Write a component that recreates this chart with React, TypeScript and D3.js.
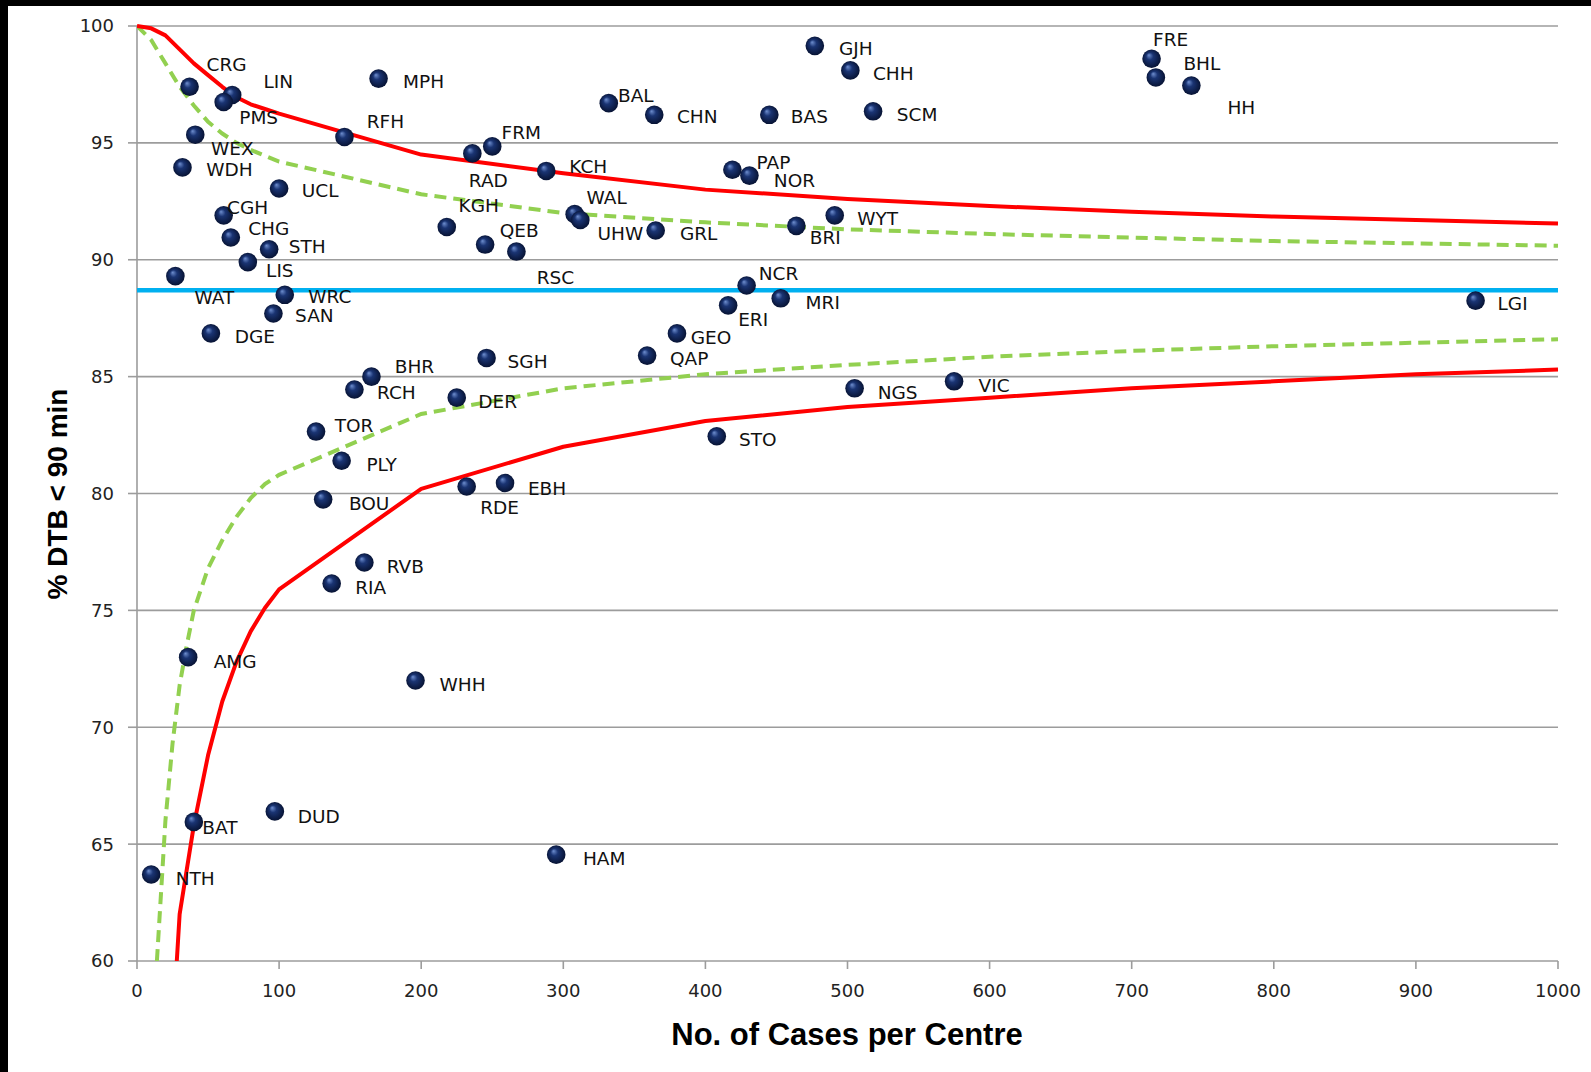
import React from 'react';
import * as d3 from 'd3';

// ---- Data ----
const centreCodes = ['CRG','LIN','PMS','MPH','RFH','WEX','WDH','UCL','CGH','CHG','STH','LIS','WAT','WRC','SAN','DGE',
  'BAL','CHN','FRM','RAD','KCH','KGH','QEB','RSC','WAL','UHW','GRL','PAP','NOR','BAS','GJH','CHH','SCM','BRI','WYT',
  'NCR','MRI','ERI','GEO','QAP','SGH','FRE','BHL','HH','LGI','BHR','RCH','DER','TOR','PLY','BOU','RDE','EBH','RVB',
  'RIA','AMG','WHH','DUD','BAT','NTH','HAM','STO','NGS','VIC'];
const casesPerCentre = [37,67,61,170,146,41,32,100,61,66,93,78,27,104,96,52,
  332,364,250,236,288,218,245,267,308,312,365,419,431,445,477,502,518,464,491,
  429,453,416,380,359,246,714,717,742,942,165,153,225,126,144,131,232,259,160,
  137,36,196,97,40,10,295,408,505,575];
const pctDTB = [97.4,97.05,96.75,97.75,95.25,95.35,93.95,93.05,91.9,90.95,90.45,89.9,89.3,88.5,87.7,86.85,
  96.7,96.2,94.85,94.55,93.8,91.4,90.65,90.35,91.95,91.7,91.25,93.85,93.6,96.2,99.15,98.1,96.35,91.45,91.9,
  88.9,88.35,88.05,86.85,85.9,85.8,98.6,97.8,97.45,88.25,85.0,84.45,84.1,82.65,81.4,79.75,80.3,80.45,77.05,
  76.15,73.0,72.0,66.4,65.95,63.7,64.55,82.45,84.5,84.8];

const nationalMean = 88.7;

const upperRedX = [0,10,20,30,40,50,60,70,80,90,100,200,300,400,500,600,700,800,900,1000];
const upperRedY = [100,99.9,99.6,99.0,98.4,97.9,97.4,96.95,96.65,96.45,96.25,94.5,93.7,93.0,92.6,92.3,92.05,91.85,91.7,91.55];
const lowerRedX = [28,30,40,50,60,70,80,90,100,200,300,400,500,600,700,800,900,1000];
const lowerRedY = [60,62,65.8,68.8,71.1,72.8,74.1,75.1,75.9,80.2,82.0,83.1,83.7,84.1,84.5,84.8,85.1,85.3];
const upperGreenX = [0,10,20,30,40,50,60,70,80,90,100,200,300,400,500,600,700,800,900,1000];
const upperGreenY = [100,99.4,98.4,97.4,96.6,95.9,95.4,95.0,94.7,94.45,94.2,92.8,92.0,91.6,91.3,91.1,90.95,90.8,90.7,90.6];
const lowerGreenX = [14,17,20,25,30,35,40,50,60,70,80,90,100,200,300,400,500,600,700,800,900,1000];
const lowerGreenY = [60,63,66,69.3,71.8,73.5,75.0,76.8,78.0,79.0,79.8,80.4,80.8,83.4,84.5,85.1,85.5,85.85,86.1,86.3,86.45,86.6];

const xTicks = [0,100,200,300,400,500,600,700,800,900,1000];
const yTicks = [60,65,70,75,80,85,90,95,100];

// label placement (pixel offsets from the marker), layout only
const labelOffsets: Record<string, [number, number]> = {
  CRG:[37,-22], LIN:[46,-14], PMS:[35,15], MPH:[45,3], RFH:[41,-16], WEX:[37,14], WDH:[47,2], UCL:[41,2],
  CGH:[24,-8], CHG:[38,-9], STH:[38,-3], LIS:[32,8], WAT:[39,21], WRC:[45,2], SAN:[41,2], DGE:[44,3],
  BAL:[27,-8], CHN:[43,2], FRM:[29,-14], RAD:[16,27], KCH:[42,-5], KGH:[32,-22], QEB:[34,-14], RSC:[39,26],
  WAL:[32,-17], UHW:[40,13], GRL:[43,3], PAP:[41,-7], NOR:[45,5], BAS:[40,2], GJH:[41,2], CHH:[43,3], SCM:[44,3],
  BRI:[29,11], WYT:[43,3], NCR:[32,-12], MRI:[42,4], ERI:[25,14], GEO:[34,4], QAP:[42,3], SGH:[41,3],
  FRE:[19,-19], BHL:[46,-14], HH:[50,22], LGI:[37,3], BHR:[43,-10], RCH:[42,3], DER:[41,4], TOR:[38,-6],
  PLY:[40,4], BOU:[46,4], RDE:[33,21], EBH:[42,5], RVB:[41,4], RIA:[39,4], AMG:[47,4], WHH:[47,4], DUD:[44,5],
  BAT:[26,5], NTH:[44,4], HAM:[48,4], STO:[41,3], NGS:[43,4], VIC:[40,4],
};

const W = 1591, H = 1072;
const PL = 137, PR = 1558, PT = 26, PB = 961;

export default function App() {
  const x = d3.scaleLinear().domain([0, 1000]).range([PL, PR]);
  const y = d3.scaleLinear().domain([60, 100]).range([PB, PT]);
  const mk = (xs: number[], ys: number[]) =>
    d3.line<number>().x((_, i) => x(xs[i])).y((_, i) => y(ys[i]))(xs) || '';

  const labelFont = '"DejaVu Sans", sans-serif';

  return (
    <div style={{ position: 'absolute', left: 0, top: 0, width: W, height: H, background: '#fff' }}>
      <svg width={W} height={H} style={{ display: 'block' }}>
        <defs>
          <radialGradient id="ball" cx="50%" cy="50%" r="55%" fx="35%" fy="30%">
            <stop offset="0%" stopColor="#6f8fd0" />
            <stop offset="35%" stopColor="#1a3473" />
            <stop offset="100%" stopColor="#050f2c" />
          </radialGradient>
          <clipPath id="plot">
            <rect x={PL} y={PT - 2} width={PR - PL + 4} height={PB - PT + 2} />
          </clipPath>
        </defs>
        <rect x={0} y={0} width={W} height={H} fill="#fff" />
        <rect x={0} y={0} width={W} height={6} fill="#000" />
        <rect x={0} y={0} width={8} height={H} fill="#000" />

        {/* gridlines */}
        {yTicks.map(t => (
          <g key={'gy' + t}>
            <line x1={PL} x2={PR} y1={y(t)} y2={y(t)} stroke="#9c9c9c" strokeWidth={1.6} />
            <line x1={PL - 9} x2={PL} y1={y(t)} y2={y(t)} stroke="#9c9c9c" strokeWidth={1.6} />
            <text x={PL - 23} y={y(t)} dy="0.36em" textAnchor="end" fontFamily={labelFont} fontSize={18} fill="#222">{t}</text>
          </g>
        ))}
        <line x1={PL} x2={PL} y1={PT} y2={PB} stroke="#9c9c9c" strokeWidth={1.6} />
        {xTicks.map(t => (
          <g key={'gx' + t}>
            <line x1={x(t)} x2={x(t)} y1={PB} y2={PB + 8} stroke="#9c9c9c" strokeWidth={1.6} />
            <text x={x(t)} y={PB + 30} dy="0.36em" textAnchor="middle" fontFamily={labelFont} fontSize={18} fill="#222">{t}</text>
          </g>
        ))}

        <g clipPath="url(#plot)" fill="none">
          <path d={mk(upperGreenX, upperGreenY)} stroke="#92d050" strokeWidth={4} strokeDasharray="12 7" />
          <path d={mk(lowerGreenX, lowerGreenY)} stroke="#92d050" strokeWidth={4} strokeDasharray="12 7" />
          <path d={mk(upperRedX, upperRedY)} stroke="#ff0000" strokeWidth={4} strokeLinejoin="round" />
          <path d={mk(lowerRedX, lowerRedY)} stroke="#ff0000" strokeWidth={4} strokeLinejoin="round" />
          <line x1={x(0)} x2={x(1000)} y1={y(nationalMean)} y2={y(nationalMean)} stroke="#00b0f0" strokeWidth={4.5} />
        </g>

        {centreCodes.map((c, i) => (
          <circle key={'p' + c} cx={x(casesPerCentre[i])} cy={y(pctDTB[i])} r={9.3} fill="url(#ball)" />
        ))}
        {centreCodes.map((c, i) => {
          const o = labelOffsets[c] || [40, 3];
          return (
            <text key={'l' + c} x={x(casesPerCentre[i]) + o[0]} y={y(pctDTB[i]) + o[1]} dy="0.36em"
              textAnchor="middle" fontFamily={labelFont} fontSize={18.5} fill="#111">{c}</text>
          );
        })}

        <text transform={`translate(67,494) rotate(-90)`} textAnchor="middle"
          fontFamily='"Liberation Sans", Arial, sans-serif' fontWeight="bold" fontSize={28} fill="#000">% DTB &lt; 90 min</text>
        <text x={847} y={1045} textAnchor="middle"
          fontFamily='"Liberation Sans", Arial, sans-serif' fontWeight="bold" fontSize={31} fill="#000">No. of Cases per Centre</text>
      </svg>
    </div>
  );
}
